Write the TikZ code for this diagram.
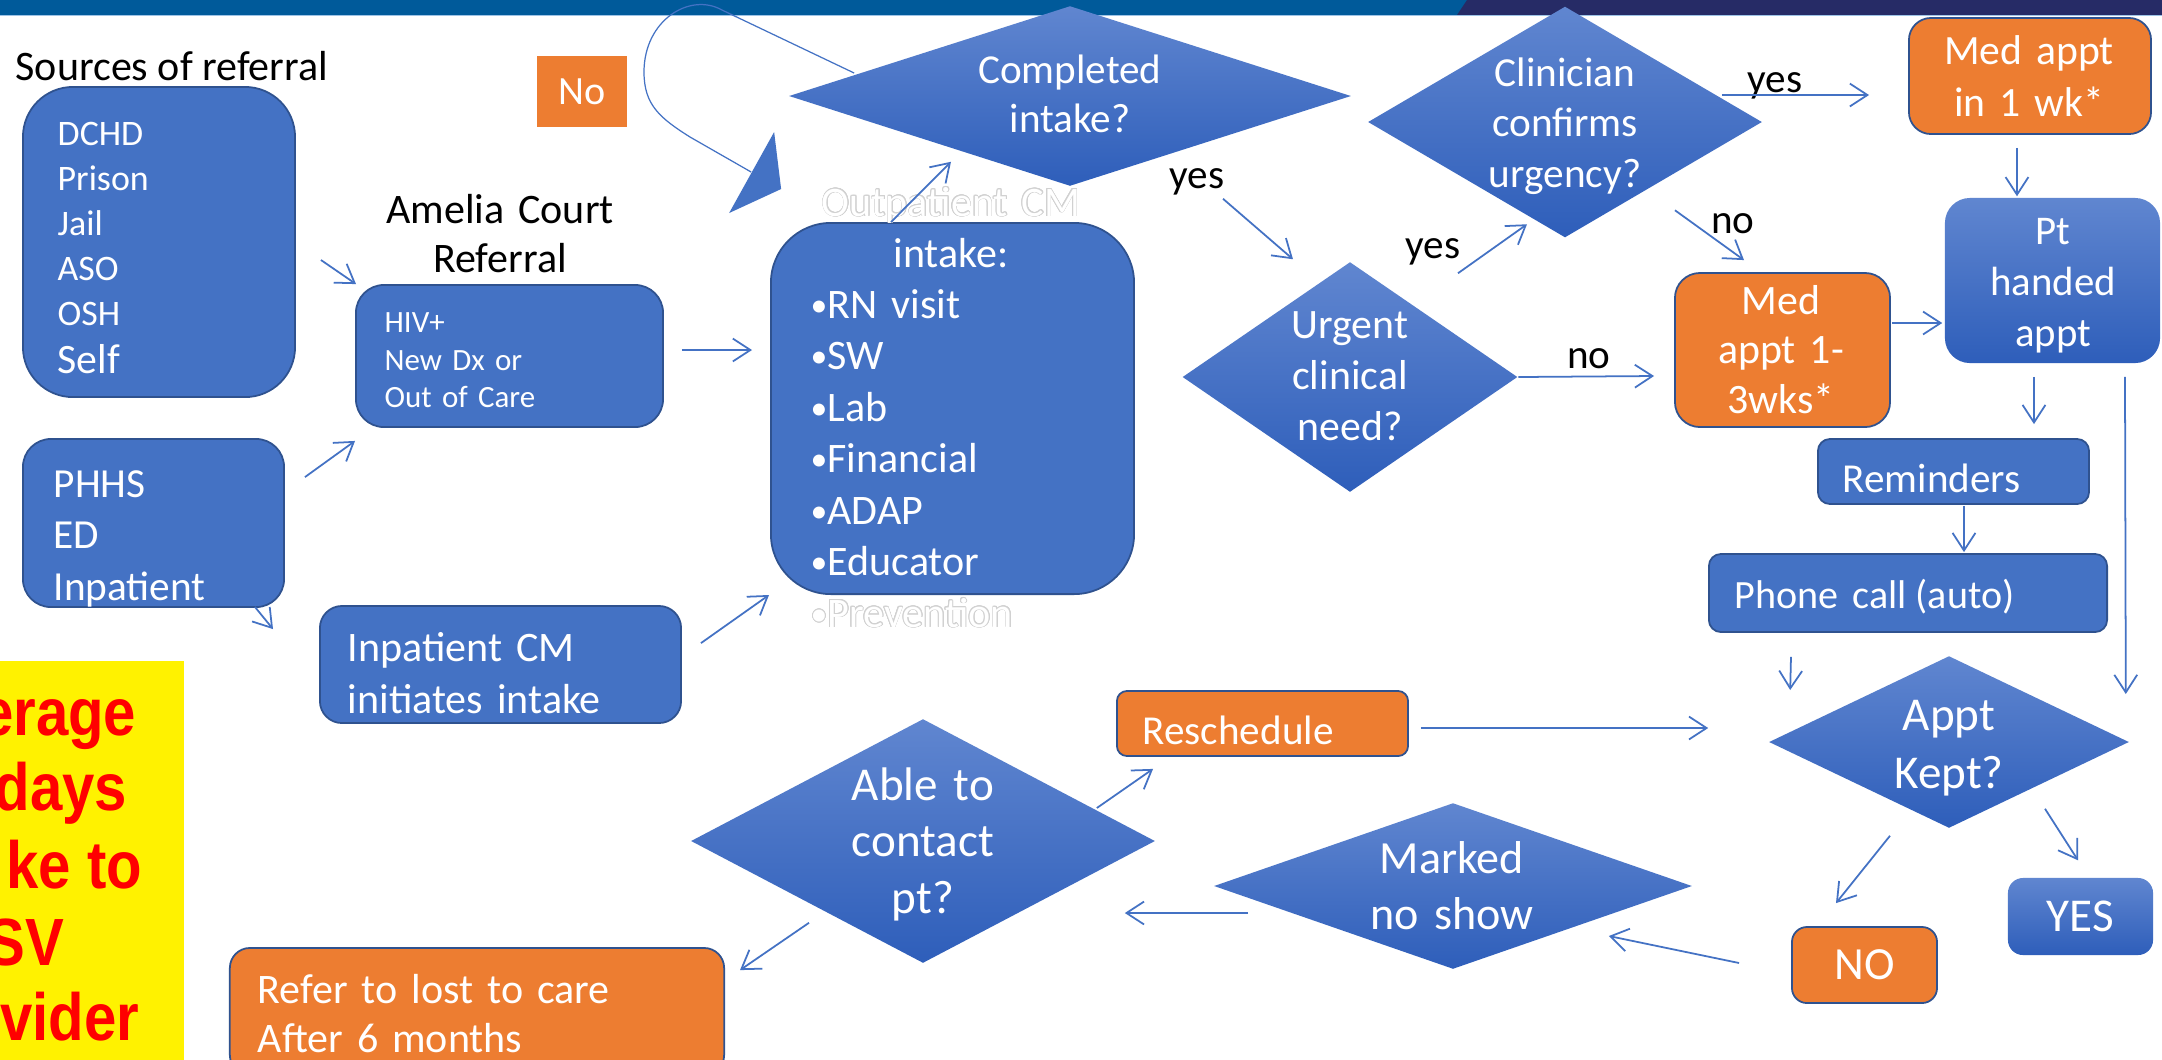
\documentclass[tikz,border=0pt]{standalone}
\usepackage{fontspec}
\setmainfont{Carlito}
\newfontfamily\notefont{Liberation Sans}[FakeStretch=0.87]
\usepackage[copies]{contour}
\contourlength{0.22pt}
\usetikzlibrary{shapes.geometric,arrows.meta}
\definecolor{boxblue}{HTML}{4472C4}
\definecolor{edgeblue}{HTML}{2F528F}
\definecolor{boxorange}{HTML}{ED7D31}
\definecolor{dtop}{RGB}{96,134,208}
\definecolor{dbot}{RGB}{46,94,186}
\definecolor{barblue}{HTML}{005A9A}
\definecolor{barnavy}{HTML}{262B66}
\definecolor{barline}{HTML}{9DC3E6}
\definecolor{ghost}{gray}{0.82}
\newcommand\pbul{{\fontsize{9.6}{1}\selectfont\raisebox{0.5pt}{•}}}

\begin{document}
\begin{tikzpicture}[x=0.01cm, y=-0.01cm,
    >={Straight Barb[length=5pt,width=6.5pt]},
    box/.style={rectangle, fill=boxblue, draw=edgeblue, line width=0.5pt, inner sep=0pt},
    obox/.style={box, fill=boxorange},
    gbox/.style={rectangle, top color=dtop, bottom color=dbot, inner sep=0pt},
    decide/.style={diamond, top color=dtop, bottom color=dbot, inner sep=0pt},
    wt/.style={inner sep=0pt, text=white},
    lbl/.style={inner sep=0pt, text=black, font=\fontsize{11.7}{14}\selectfont},
    redtxt/.style={inner sep=0pt, text=red, font=\notefont\bfseries\fontsize{19}{22}\selectfont},
    flow/.style={draw=boxblue, line width=0.5pt, ->}]
\fill[white] (0,0) rectangle (2162,1059);
\useasboundingbox (0,0) rectangle (2162,1059);
\clip (0,0) rectangle (2162,1059);
\fill[barblue] (0,0) rectangle (2162,15);
\fill[barnavy] (1467,0) -- (2162,0) -- (2162,15) -- (1457,15) -- cycle;
\draw[barline, line width=0.4pt] (0,15.5) -- (2162,15.5);

\node[box, rounded corners=0.5cm, minimum width=2.72cm, minimum height=3.10cm] (src) at (159,242) {};
\node[rectangle, fill=boxorange, minimum width=0.9cm, minimum height=0.71cm, text=white, font=\fontsize{11.4}{14}\selectfont] (nobox) at (582,91.5) {No};
\node[box, rounded corners=0.28cm, minimum width=3.07cm, minimum height=1.42cm] (hiv) at (509.5,356) {};
\node[box, rounded corners=0.28cm, minimum width=2.61cm, minimum height=1.68cm] (phhs) at (153.5,523) {};
\node[box, rounded corners=0.22cm, minimum width=3.61cm, minimum height=1.17cm] (inpcm) at (500.5,664.5) {};
\node[box, rounded corners=0.6cm, minimum width=3.63cm, minimum height=3.71cm] (outpt) at (952.5,408.5) {};
\node[decide, minimum width=5.62cm, minimum height=1.80cm] (done) at (1070,96) {};
\node[decide, minimum width=3.35cm, minimum height=2.30cm] (urg) at (1350,377) {};
\node[decide, minimum width=3.94cm, minimum height=2.31cm] (clin) at (1565,122) {};
\node[obox, rounded corners=0.22cm, minimum width=2.42cm, minimum height=1.16cm] (med1) at (2030,76) {};
\node[gbox, rounded corners=0.25cm, minimum width=2.15cm, minimum height=1.65cm] (pth) at (2052.5,280.5) {};
\node[obox, rounded corners=0.25cm, minimum width=2.15cm, minimum height=1.54cm] (med3) at (1782.5,350) {};
\node[box, rounded corners=0.12cm, minimum width=2.71cm, minimum height=0.65cm] (remind) at (1953.5,471.5) {};
\node[box, rounded corners=0.12cm, minimum width=3.98cm, minimum height=0.78cm] (phone) at (1908,593) {};
\node[decide, minimum width=3.60cm, minimum height=1.72cm] (kept) at (1949,742) {};
\node[obox, rounded corners=0.1cm, minimum width=2.91cm, minimum height=0.65cm] (resch) at (1262.5,723.5) {};
\node[gbox, rounded corners=0.15cm, minimum width=1.45cm, minimum height=0.77cm, text=white, font=\fontsize{13.4}{16}\selectfont] (yes) at (2080.5,916.5) {YES};
\node[obox, rounded corners=0.15cm, minimum width=1.45cm, minimum height=0.76cm, text=white, font=\fontsize{13.1}{16}\selectfont] (no) at (1864.5,965) {NO};
\node[decide, minimum width=4.78cm, minimum height=1.66cm] (noshow) at (1453,886) {};
\node[decide, minimum width=4.64cm, minimum height=2.44cm] (able) at (923,841) {};
\node[obox, rounded corners=0.2cm, minimum width=4.94cm, minimum height=1.27cm] (refer) at (477,1011.5) {};
\node[rectangle, fill=yellow, minimum width=1.84cm, minimum height=4.09cm] (note) at (92,865.5) {};

\node[lbl, anchor=base west, font=\fontsize{11.95}{14}\selectfont] (srclbl) at (15,80) {Sources of referral};
\node[wt, anchor=base west, text width=2cm, align=left, font=\fontsize{10.2}{12.8}\selectfont] (srct) at (57,145) {DCHD\\Prison\\Jail\\ASO\\OSH\\[1pt]{\fontsize{11.9}{12.8}\selectfont Self}};
\node[lbl, anchor=base, text width=3cm, align=center, font=\fontsize{11.95}{14.2}\selectfont] (amel) at (500,223) {Amelia Court\\Referral};
\node[wt, anchor=base west, text width=2.5cm, align=left, font=\fontsize{8.8}{10.8}\selectfont] (hivt) at (384,332) {HIV+\\New Dx or\\Out of Care};
\node[wt, anchor=base west, text width=2.2cm, align=left, font=\fontsize{11.75}{14.65}\selectfont] (phhst) at (53,497) {PHHS\\ED\\Inpatient};
\node[wt, anchor=base west, text width=3.2cm, align=left, font=\fontsize{11.95}{14.8}\selectfont] (inpt) at (347,661) {Inpatient CM\\initiates intake};
\node[wt, anchor=base, text width=3.4cm, align=center, font=\fontsize{11.95}{14.5}\selectfont] (outt) at (951,216) {\contour{ghost}{Outpatient CM}\\intake:};
\node[wt, anchor=base west, text width=3cm, align=left, font=\fontsize{11.95}{14.65}\selectfont] (outl) at (810,318) {\pbul RN visit\\\pbul SW\\\pbul Lab\\\pbul Financial\\\pbul ADAP\\\pbul Educator\\\contour{ghost}{\pbul Prevention}};
\node[wt, anchor=base, text width=2.6cm, align=center, font=\fontsize{11.7}{14.2}\selectfont] (donet) at (1070,83) {Completed\\intake?};
\node[wt, anchor=base, text width=2.4cm, align=center, font=\fontsize{11.9}{14.5}\selectfont] (urgt) at (1350,338) {Urgent\\clinical\\need?};
\node[wt, anchor=base, text width=2.6cm, align=center, font=\fontsize{11.75}{14.4}\selectfont] (clint) at (1565,86) {Clinician\\confirms\\urgency?};
\node[wt, anchor=base, text width=2.2cm, align=center, font=\fontsize{11.85}{14.8}\selectfont] (med1t) at (2029,64) {Med appt\\in 1 wk*};
\node[wt, anchor=base, text width=2cm, align=center, font=\fontsize{11.9}{14.2}\selectfont] (med3t) at (1781,314) {Med\\appt 1-\\3wks*};
\node[wt, anchor=base, text width=2cm, align=center, font=\fontsize{11.6}{14.6}\selectfont] (ptht) at (2053,244) {Pt\\handed\\appt};
\node[wt, anchor=base west, font=\fontsize{11.7}{14}\selectfont] (remt) at (1842,492) {Reminders};
\node[wt, anchor=base west, font=\fontsize{11.4}{14}\selectfont] (phonet) at (1734,608) {Phone\hspace{0.12em} call (auto)};
\node[wt, anchor=base, text width=2cm, align=center, font=\fontsize{13.4}{16.5}\selectfont] (keptt) at (1949,730) {Appt\\Kept?};
\node[wt, anchor=base west, font=\fontsize{11.7}{14}\selectfont] (rescht) at (1142,744) {Reschedule};
\node[wt, anchor=base, text width=2.4cm, align=center, font=\fontsize{13.1}{16.2}\selectfont] (showt) at (1452,873) {Marked\\no show};
\node[wt, anchor=base, text width=2.4cm, align=center, font=\fontsize{13.4}{16.2}\selectfont] (ablet) at (923,800) {Able to\\contact\\pt?};
\node[wt, anchor=base west, text width=4.5cm, align=left, font=\fontsize{11.95}{14.2}\selectfont] (refert) at (257,1003) {Refer to lost to care\\After 6 months};
\node[lbl, anchor=base] (yesa) at (1197,188) {yes};
\node[lbl, anchor=base] (yesb) at (1433,258) {yes};
\node[lbl, anchor=base] (yesc) at (1775,92) {yes};
\node[lbl, anchor=base] (noa) at (1733,233) {no};
\node[lbl, anchor=base] (nob) at (1589,368) {no};
\foreach \w/\x/\y [count=\i] in {erage/137/735, days/128/810, ke to/143/888, SV/65/965, vider/140/1040}
  \node[redtxt, anchor=base east] (note\i) at (\x,\y) {\w};

\draw[flow] ([shift={(25,18)}]src.east) -- ([shift={(1,0)}]hiv.north west);
\draw[flow] ([shift={(20,39)}]phhs.north east) -- ([shift={(0,13)}]hiv.south west);
\draw[flow] ([shift={(-30,-1)}]phhs.south east) -- ([shift={(-46,24)}]inpcm.north west);
\draw[flow] ([shift={(18,-6)}]hiv.east) -- ([shift={(-18,-58.5)}]outpt.west);
\draw[flow] ([shift={(19,38)}]inpcm.north east) -- ([shift={(-1,0)}]outpt.south west);
\draw[flow] ([shift={(-61.5,0)}]outpt.north) -- ([shift={(-119,-25)}]done.south);
\draw[flow] ([shift={(153,12)}]done.south) -- ([shift={(-57,-2)}]urg.north);
\draw[flow] ([shift={(108,12)}]urg.north) -- ([shift={(-38,-14)}]clin.south);
\draw[flow] ([shift={(-41,-27)}]clin.east) -- ([shift={(-39,19)}]med1.west);
\draw[flow] ([shift={(110,-28)}]clin.south) -- ([shift={(-38.5,-12)}]med3.north);
\draw[flow] (urg.east) -- ([shift={(-20,26)}]med3.west);
\draw[flow] ([shift={(-13,13)}]med1.south) -- ([shift={(-35.5,-1)}]pth.north);
\draw[flow] ([shift={(1,-27)}]med3.east) -- ([shift={(-2,42.5)}]pth.west);
\draw[flow] ([shift={(-18.5,13)}]pth.south) -- ([shift={(80.5,-14)}]remind.north);
\draw[flow] ([shift={(72.5,13)}]pth.south) -- ([shift={(-4,-48)}]kept.east);
\draw[flow] ([shift={(10.5,1)}]remind.south) -- ([shift={(56,-1)}]phone.north);
\draw[flow] ([shift={(-117,24)}]phone.south) -- ([shift={(22,-52)}]kept.west);
\draw[flow] ([shift={(12,4.5)}]resch.east) -- ([shift={(-60,-14)}]kept.west);
\draw[flow] ([shift={(-59,7)}]kept.south) -- ([shift={(-28.5,-23)}]no.north);
\draw[flow] ([shift={(96,-20)}]kept.south) -- ([shift={(-2.5,-17)}]yes.north);
\draw[flow] ([shift={(-52,-2)}]no.west) -- ([shift={(-84,50)}]noshow.east);
\draw[flow] ([shift={(35,27)}]noshow.west) -- ([shift={(-31,72)}]able.east);
\draw[flow] ([shift={(-59,-33)}]able.east) -- ([shift={(37,12)}]resch.south west);
\draw[flow] ([shift={(-114,-41)}]able.south) -- ([shift={(15,23)}]refer.north east);

\coordinate (looptip) at ([shift={(-37,76)}]done.west);
\draw[boxblue, line width=0.35pt] ([shift={(66,-23)}]done.west) -- (722,10) .. controls (690,-8) and (644,20) .. (644,72) .. controls (644,105) and (660,118) .. (690,137) -- (looptip);
\fill[boxblue] ([shift={(23,-40)}]looptip) -- ([shift={(30,17)}]looptip) -- ([shift={(-22,41)}]looptip) -- cycle;
\end{tikzpicture}
\end{document}
